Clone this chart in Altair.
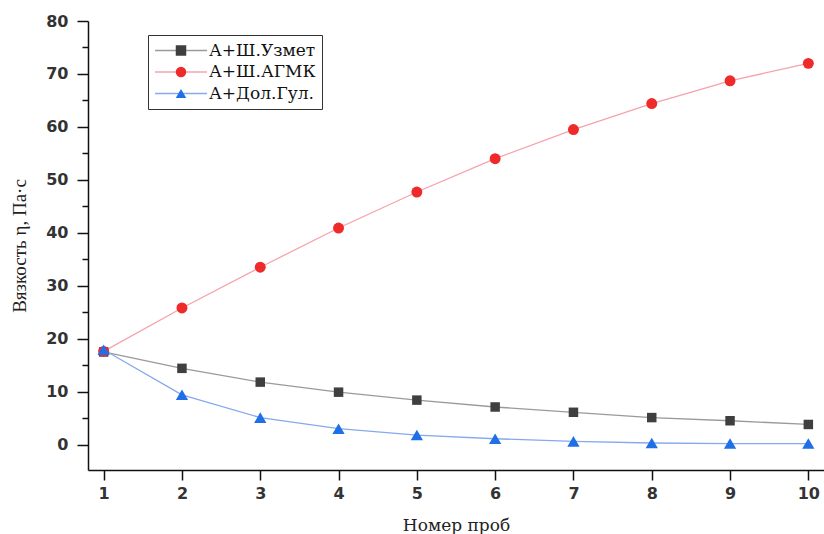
import altair as alt
import pandas as pd

# ---- data ----
samples = [1, 2, 3, 4, 5, 6, 7, 8, 9, 10]
uzmet = [17.5, 14.4, 11.8, 9.9, 8.4, 7.1, 6.1, 5.1, 4.5, 3.8]
agmk = [17.6, 25.8, 33.5, 40.9, 47.7, 54.0, 59.5, 64.4, 68.7, 72.0]
dolgul = [17.9, 9.4, 5.1, 3.0, 1.8, 1.1, 0.6, 0.3, 0.2, 0.2]
series_names = ["А+Ш.Узмет", "А+Ш.АГМК", "А+Дол.Гул."]
y_major = [0, 10, 20, 30, 40, 50, 60, 70, 80]
y_minor = [5, 15, 25, 35, 45, 55, 65, 75]

line_colors = ["#9a9a9a", "#f5a3aa", "#86a9ee"]
marker_colors = ["#3f3f3f", "#ee2a2a", "#1f6fe6"]
marker_shapes = ["square", "circle", "triangle-up"]
marker_sizes = [90, 120, 150]

# line-legend labels carry a trailing space so the line legend and the
# marker legend stay two separate (overlaid) legends
line_names = [n + " " for n in series_names]

rows = []
for name, lname, vals in zip(series_names, line_names, [uzmet, agmk, dolgul]):
    for s, v in zip(samples, vals):
        rows.append({"sample": s, "value": v, "series": name, "line_series": lname})
df = pd.DataFrame(rows)

xscale = alt.Scale(domain=[0.8, 10.2], nice=False, zero=False)
yscale = alt.Scale(domain=[-4.8, 80], nice=False, zero=False)

x_axis = alt.Axis(
    values=samples, format="d", orient="bottom", tickSize=10, tickWidth=1.5, tickColor="#111",
    domainColor="#111", domainWidth=1.5, grid=False,
    labelFont="DejaVu Sans", labelFontSize=16, labelFontWeight="bold",
    labelColor="#333", labelPadding=5,
    title="Номер проб", titleFont="DejaVu Serif", titleFontSize=17,
    titleFontWeight="normal", titleColor="#222", titlePadding=16,
)
y_axis_major = alt.Axis(
    values=y_major, orient="left", format="d", tickSize=11, tickWidth=1.5,
    tickColor="#111", domainColor="#111", domainWidth=1.5, grid=False,
    labelFont="DejaVu Sans", labelFontSize=16, labelFontWeight="bold",
    labelColor="#333", labelPadding=9,
    title="Вязкость η, Па·с", titleFont="Liberation Serif", titleFontSize=19,
    titleFontWeight="normal", titleColor="#222", titlePadding=16,
)
y_axis_minor = alt.Axis(
    values=y_minor, orient="left", tickSize=6, tickWidth=1.5, tickColor="#111",
    domain=False, labels=False, grid=False, title=None,
)

line_legend = alt.Legend(
    title=None, orient="none", legendX=60, legendY=14, direction="vertical",
    symbolType="stroke", symbolSize=2704, symbolStrokeWidth=1.3, symbolOffset=0,
    clipHeight=19, rowPadding=2.5, padding=6, labelOffset=1,
    labelFont="DejaVu Serif", labelFontSize=17, labelColor="#111",
    strokeColor="#333", fillColor="white", zindex=0,
)
marker_legend = alt.Legend(
    title=None, orient="none", legendX=60, legendY=14, direction="vertical",
    symbolSize=110, symbolStrokeWidth=0, symbolOffset=18.5, symbolOpacity=1,
    clipHeight=19, rowPadding=2.5, padding=6,
    labelFont="DejaVu Serif", labelFontSize=17, labelExpr="''", zindex=1,
)

base = alt.Chart(df)
X = alt.X("sample:Q", scale=xscale, axis=x_axis)

lines = base.mark_line(strokeWidth=1.3).encode(
    x=X,
    y=alt.Y("value:Q", scale=yscale, axis=y_axis_major),
    stroke=alt.Stroke("line_series:N", scale=alt.Scale(domain=line_names, range=line_colors),
                      legend=line_legend),
    detail="series:N",
)

minor = base.mark_point(opacity=0).encode(
    x=X,
    y=alt.Y("value:Q", scale=yscale, axis=y_axis_minor),
)

point_layers = []
for name, col, shp, sz in zip(series_names, marker_colors, marker_shapes, marker_sizes):
    point_layers.append(
        base.transform_filter(alt.datum.series == name)
        .mark_point(filled=True, shape=shp, size=sz, color=col, opacity=1)
        .encode(
            x=X,
            y=alt.Y("value:Q", scale=yscale, axis=None),
        )
    )

legend_layer = base.mark_point(filled=True, opacity=0).encode(
    x=X,
    y=alt.Y("value:Q", scale=yscale, axis=None),
    color=alt.Color("series:N", scale=alt.Scale(domain=series_names, range=marker_colors),
                    legend=marker_legend),
    shape=alt.Shape("series:N", scale=alt.Scale(domain=series_names, range=marker_shapes),
                    legend=marker_legend),
)

chart = (
    alt.layer(lines, minor, *point_layers, legend_layer)
    .resolve_axis(y="independent")
    .properties(
        width=736, height=449,
        padding={"left": 88, "top": 21, "right": 0, "bottom": 64},
        autosize=alt.AutoSizeParams(type="none"),
        background="white",
    )
    .configure_view(stroke=None)
)

chart.save("out.html", embed_options={"renderer": "svg", "actions": False})
